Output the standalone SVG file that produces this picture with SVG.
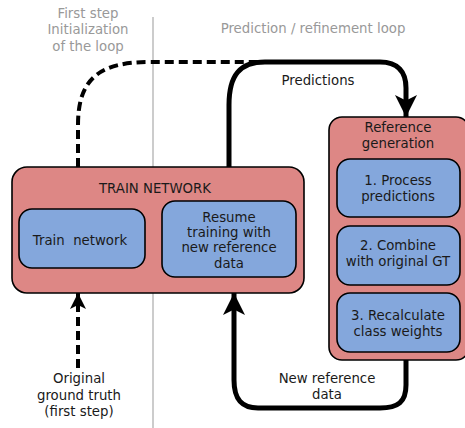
<svg xmlns="http://www.w3.org/2000/svg" width="465" height="428" viewBox="0 0 465 428">
<style>
text{font-family:"DejaVu Sans","Liberation Sans",sans-serif;font-size:13.3px;fill:#1a1a1a;text-anchor:middle;white-space:pre}
.hdr{fill:#999999}
.outer{fill:#dd8785;stroke:#000;stroke-width:1.6}
.inner{fill:#84a7dc;stroke:#000;stroke-width:1.6}
.solid{fill:none;stroke:#000;stroke-width:5}
.dash{fill:none;stroke:#000;stroke-width:4;stroke-dasharray:9,5}
</style>
<defs>
<marker id="ah" viewBox="0 0 10 10" refX="10" refY="5" markerWidth="4.4" markerHeight="4.4" orient="auto" markerUnits="strokeWidth">
<path d="M0,0 L10,5 L0,10 L2.5,5 Z" fill="#000"/>
</marker>
<marker id="ahd" viewBox="0 0 10 10" refX="10" refY="5" markerWidth="4" markerHeight="4" orient="auto" markerUnits="strokeWidth">
<path d="M0,0 L10,5 L0,10 L2.5,5 Z" fill="#000"/>
</marker>
</defs>
<rect width="465" height="428" fill="#fff"/>
<line x1="153" y1="17" x2="153" y2="428" stroke="#aaaaaa" stroke-width="1.2"/>
<g id="headers">
<text class="hdr" x="88" y="18">First step</text>
<text class="hdr" x="88" y="34">Initialization</text>
<text class="hdr" x="88" y="51">of the loop</text>
<text class="hdr" x="313" y="33">Prediction / refinement loop</text>
</g>
<g id="connectors">
<path class="dash" d="M78,167 L78,125 C78,78 100,62 150,62 L272,62"/>
<path class="solid" d="M229,167 L229,105 C229,75 240,62 265,62 L380,62 C398,62 406,72 406,88 L406,117" marker-end="url(#ah)"/>
<path class="solid" d="M406,360 L406,385 C406,402 398,408 380,408 L258,408 C242,408 234,400 234,380 L234,293" marker-end="url(#ah)"/>
<path class="dash" d="M78,368 L78,293" marker-end="url(#ahd)"/>
<text x="318" y="85">Predictions</text>
<text x="327" y="383">New reference</text>
<text x="327" y="399">data</text>
<text x="79" y="383">Original</text>
<text x="79" y="400">ground truth</text>
<text x="79" y="416">(first step)</text>
</g>
<g id="train-network">
<rect class="outer" x="12" y="167" width="292" height="126" rx="15"/>
<text x="155" y="193">TRAIN NETWORK</text>
</g>
<g id="train-step">
<rect class="inner" x="19" y="209" width="126" height="59" rx="13"/>
<text x="80" y="245">Train  network</text>
</g>
<g id="resume">
<rect class="inner" x="162" y="201" width="134" height="76" rx="13"/>
<text x="229" y="222">Resume</text>
<text x="229" y="237">training with</text>
<text x="229" y="252">new reference</text>
<text x="229" y="268">data</text>
</g>
<g id="reference-generation">
<rect class="outer" x="329" y="117" width="140" height="243" rx="13"/>
<text x="398" y="132">Reference</text>
<text x="398" y="148">generation</text>
</g>
<g id="process">
<rect class="inner" x="337" y="159" width="123" height="58" rx="13"/>
<text x="398" y="185">1. Process</text>
<text x="398" y="201">predictions</text>
</g>
<g id="combine">
<rect class="inner" x="337" y="226" width="123" height="59" rx="13"/>
<text x="398" y="250">2. Combine</text>
<text x="398" y="266">with original GT</text>
</g>
<g id="recalculate">
<rect class="inner" x="337" y="293" width="123" height="59" rx="13"/>
<text x="398" y="320">3. Recalculate</text>
<text x="398" y="336">class weights</text>
</g>
</svg>
